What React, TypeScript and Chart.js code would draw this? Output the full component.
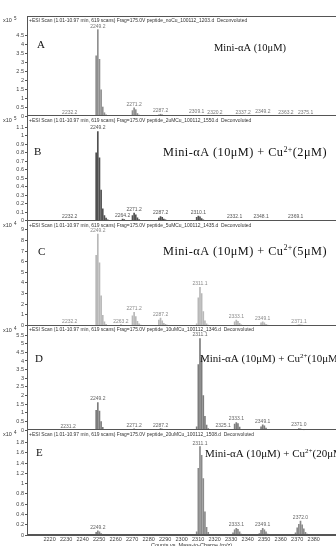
import { useEffect, useRef } from 'react';
import { Chart, registerables } from 'chart.js';

Chart.register(...registerables);

// ---- m/z axis ----
const mzTicks = [2220, 2230, 2240, 2250, 2260, 2270, 2280, 2290, 2300, 2310, 2320, 2330, 2340, 2350, 2360, 2370, 2380];
const mzMin = 2211.8;
const mzMax = 2388;

// ---- A: Mini-αA (10 μM), counts x10^5 ----
const mzA = [2232.2, 2248.2, 2249.2, 2250.2, 2251.2, 2252.2, 2253.2, 2254.2, 2270.2, 2271.2, 2272.2, 2273.2, 2274.2, 2286.2, 2287.2, 2288.2, 2289.2, 2309.1, 2320.2, 2337.2, 2349.2, 2363.2, 2375.1];
const countsA = [0.02, 3.35, 4.8, 3.15, 1.45, 0.5, 0.18, 0.06, 0.3, 0.45, 0.35, 0.14, 0.05, 0.06, 0.1, 0.07, 0.03, 0.03, 0.02, 0.02, 0.03, 0.02, 0.02];
const peaksA = [2232.2, 2249.2, 2271.2, 2287.2, 2309.1, 2320.2, 2337.2, 2349.2, 2363.2, 2375.1];
const ticksA = [0, 0.5, 1, 1.5, 2, 2.5, 3, 3.5, 4, 4.5];

// ---- B: + Cu2+ (2 μM), counts x10^5 ----
const mzB = [2232.2, 2248.2, 2249.2, 2250.2, 2251.2, 2252.2, 2253.2, 2254.2, 2255.2, 2264.2, 2265.2, 2270.2, 2271.2, 2272.2, 2273.2, 2274.2, 2275.2, 2286.2, 2287.2, 2288.2, 2289.2, 2290.2, 2309.1, 2310.1, 2311.1, 2312.1, 2313.1, 2332.1, 2348.1, 2369.1];
const countsB = [0.005, 0.8, 1.05, 0.74, 0.36, 0.14, 0.06, 0.03, 0.01, 0.02, 0.015, 0.06, 0.09, 0.07, 0.035, 0.015, 0.005, 0.03, 0.05, 0.04, 0.02, 0.01, 0.04, 0.055, 0.045, 0.025, 0.01, 0.005, 0.005, 0.005];
const peaksB = [2232.2, 2249.2, 2264.2, 2271.2, 2287.2, 2310.1, 2332.1, 2348.1, 2369.1];
const ticksB = [0, 0.1, 0.2, 0.3, 0.4, 0.5, 0.6, 0.7, 0.8, 0.9, 1, 1.1];

// ---- C: + Cu2+ (5 μM), counts x10^4 ----
const mzC = [2232.2, 2248.2, 2249.2, 2250.2, 2251.2, 2252.2, 2253.2, 2254.2, 2263.2, 2270.2, 2271.2, 2272.2, 2273.2, 2274.2, 2275.2, 2286.2, 2287.2, 2288.2, 2289.2, 2290.2, 2291.2, 2309.1, 2310.1, 2311.1, 2312.1, 2313.1, 2314.1, 2315.1, 2316.1, 2332.1, 2333.1, 2334.1, 2335.1, 2336.1, 2348.1, 2349.1, 2350.1, 2351.1, 2352.1, 2370.1, 2371.1, 2372.1, 2373.1];
const countsC = [0.05, 6.6, 8.6, 5.9, 2.8, 0.95, 0.35, 0.1, 0.08, 0.9, 1.25, 0.85, 0.4, 0.15, 0.05, 0.5, 0.7, 0.45, 0.2, 0.1, 0.05, 0.15, 2.6, 3.6, 3.0, 1.3, 0.45, 0.15, 0.05, 0.35, 0.5, 0.4, 0.2, 0.07, 0.25, 0.35, 0.25, 0.12, 0.05, 0.05, 0.08, 0.06, 0.03];
const peaksC = [2232.2, 2249.2, 2263.2, 2271.2, 2287.2, 2311.1, 2333.1, 2349.1, 2371.1];
const ticksC = [0, 1, 2, 3, 4, 5, 6, 7, 8, 9];

// ---- D: + Cu2+ (10 μM), counts x10^4 ----
const mzD = [2231.2, 2248.2, 2249.2, 2250.2, 2251.2, 2252.2, 2253.2, 2270.2, 2271.2, 2272.2, 2273.2, 2286.2, 2287.2, 2288.2, 2289.2, 2309.1, 2310.1, 2311.1, 2312.1, 2313.1, 2314.1, 2315.1, 2316.1, 2325.1, 2332.1, 2333.1, 2334.1, 2335.1, 2336.1, 2348.1, 2349.1, 2350.1, 2351.1, 2352.1, 2370.0, 2371.0, 2372.0, 2373.0, 2374.0];
const countsD = [0.03, 1.15, 1.6, 1.1, 0.5, 0.17, 0.05, 0.05, 0.08, 0.06, 0.03, 0.06, 0.09, 0.07, 0.03, 0.2, 3.8, 5.3, 4.2, 2.0, 0.8, 0.3, 0.1, 0.05, 0.35, 0.45, 0.38, 0.18, 0.06, 0.2, 0.32, 0.25, 0.12, 0.05, 0.06, 0.1, 0.08, 0.05, 0.02];
const peaksD = [2231.2, 2249.2, 2271.2, 2287.2, 2311.1, 2325.1, 2333.1, 2349.1, 2371.0];
const ticksD = [0, 0.5, 1, 1.5, 2, 2.5, 3, 3.5, 4, 4.5, 5, 5.5];

// ---- E: + Cu2+ (20 μM), counts x10^4 ----
const mzE = [2248.2, 2249.2, 2250.2, 2251.2, 2309.1, 2310.1, 2311.1, 2312.1, 2313.1, 2314.1, 2315.1, 2316.1, 2331.1, 2332.1, 2333.1, 2334.1, 2335.1, 2336.1, 2347.1, 2348.1, 2349.1, 2350.1, 2351.1, 2352.1, 2369.0, 2370.0, 2371.0, 2372.0, 2373.0, 2374.0, 2375.0, 2376.0];
const countsE = [0.05, 0.08, 0.06, 0.03, 0.06, 1.3, 1.72, 1.55, 1.1, 0.45, 0.15, 0.05, 0.04, 0.1, 0.13, 0.11, 0.06, 0.02, 0.03, 0.09, 0.13, 0.1, 0.06, 0.02, 0.04, 0.14, 0.21, 0.27, 0.2, 0.12, 0.05, 0.02];
const peaksE = [2249.2, 2311.1, 2333.1, 2349.1, 2372.0];
const ticksE = [0, 0.2, 0.4, 0.6, 0.8, 1, 1.2, 1.4, 1.6, 1.8];

const axisMax = [5.56, 1.232, 9.85, 6.05, 2.04];
const exponents = [5, 5, 4, 4, 4];
const letters = ['A', 'B', 'C', 'D', 'E'];
const copper = ['', '2', '5', '10', '20'];
const files = [
  'peptide_noCu_100112_1203.d',
  'peptide_2uMCu_100112_1550.d',
  'peptide_5uMCu_100112_1435.d',
  'peptide_10uMCu_100112_1346.d',
  'peptide_20uMCu_100112_1508.d',
];

// look of each panel
const panelStyle = [
  { weight: 100, bar: '#8f8f8f', label: '#777', letterX: 37, letterDy: 29, titleX: 214, titleDy: 32, titleSize: 10.5, spacing: 0 },
  { weight: 104.75, bar: '#505050', label: '#555', letterX: 34, letterDy: 36, titleX: 163, titleDy: 37, titleSize: 12.3, spacing: 0.45 },
  { weight: 104.75, bar: '#b8b8b8', label: '#8a8a8a', letterX: 38, letterDy: 31, titleX: 163, titleDy: 31, titleSize: 12.3, spacing: 0.45 },
  { weight: 104.75, bar: '#7c7c7c', label: '#666', letterX: 35, letterDy: 34, titleX: 200, titleDy: 34, titleSize: 11, spacing: 0 },
  { weight: 104.75, bar: '#8a8a8a', label: '#666', letterX: 36, letterDy: 23, titleX: 205, titleDy: 24, titleSize: 11, spacing: 0 },
];

const panels = [
  { id: 'yA', mz: mzA, counts: countsA, peaks: peaksA, ticks: ticksA },
  { id: 'yB', mz: mzB, counts: countsB, peaks: peaksB, ticks: ticksB },
  { id: 'yC', mz: mzC, counts: countsC, peaks: peaksC, ticks: ticksC },
  { id: 'yD', mz: mzD, counts: countsD, peaks: peaksD, ticks: ticksD },
  { id: 'yE', mz: mzE, counts: countsE, peaks: peaksE, ticks: ticksE },
];

const SANS = '"Liberation Sans", Arial, sans-serif';
const SERIF = '"Liberation Serif", "Times New Roman", serif';

function drawTitle(ctx: CanvasRenderingContext2D, x: number, y: number, cu: string, size: number, spacing: number) {
  ctx.fillStyle = '#111';
  ctx.textAlign = 'left';
  ctx.textBaseline = 'middle';
  (ctx as any).letterSpacing = `${spacing}px`;
  const main = `${size}px ${SERIF}`;
  const sup = `${Math.round(size * 0.62)}px ${SERIF}`;
  let cx = x;
  const put = (s: string, font: string, dy: number) => {
    ctx.font = font;
    ctx.fillText(s, cx, y + dy);
    cx += ctx.measureText(s).width;
  };
  put('Mini-αA (10μM)', main, 0);
  if (cu) {
    put(' + Cu', main, 0);
    put('2+', sup, -size * 0.28);
    put(`(${cu}μM)`, main, 0);
  }
  (ctx as any).letterSpacing = '0px';
}

const spectrumText = {
  id: 'spectrumText',
  afterDraw(chart: any) {
    const ctx: CanvasRenderingContext2D = chart.ctx;
    const xs = chart.scales.x;
    const { left, right } = chart.chartArea;
    ctx.save();
    panels.forEach((p, k) => {
      const ys = chart.scales[p.id];
      const st = panelStyle[k];
      const top = ys.top;
      const bottom = ys.bottom;

      // panel frame: top edge for the first panel, baseline for every panel
      ctx.strokeStyle = '#555';
      ctx.lineWidth = 1;
      ctx.beginPath();
      if (k === 0) {
        ctx.moveTo(left, Math.round(top) + 0.5);
        ctx.lineTo(right, Math.round(top) + 0.5);
      }
      ctx.moveTo(left, Math.round(bottom) - 0.5);
      ctx.lineTo(right, Math.round(bottom) - 0.5);
      ctx.stroke();

      // scale exponent and scan header
      ctx.fillStyle = '#333';
      ctx.textAlign = 'left';
      ctx.textBaseline = 'middle';
      ctx.font = `5.5px ${SANS}`;
      ctx.fillText('x10', 3, top + 4.5);
      ctx.font = `4.5px ${SANS}`;
      ctx.fillText(String(exponents[k]), 14, top + 3);
      ctx.font = `4.95px ${SANS}`;
      ctx.fillText(`+ESI Scan (1.01-10.97 min, 619 scans) Frag=175.0V ${files[k]}  Deconvoluted`, 29, top + 4.5);

      // peak m/z labels above their sticks
      ctx.fillStyle = st.label;
      ctx.textAlign = 'center';
      ctx.textBaseline = 'bottom';
      ctx.font = `5px ${SANS}`;
      p.peaks.forEach((m) => {
        const i = p.mz.indexOf(m);
        const v = i >= 0 ? p.counts[i] : 0;
        ctx.fillText(m.toFixed(1), xs.getPixelForValue(m), ys.getPixelForValue(v) - 1);
      });

      // panel letter and sample title
      ctx.fillStyle = '#111';
      ctx.textAlign = 'left';
      ctx.textBaseline = 'middle';
      ctx.font = `11px ${SERIF}`;
      ctx.fillText(letters[k], st.letterX, top + st.letterDy);
      drawTitle(ctx, st.titleX, top + st.titleDy, copper[k], st.titleSize, st.spacing);
    });

    // x-axis title
    ctx.fillStyle = '#333';
    ctx.textAlign = 'center';
    ctx.textBaseline = 'middle';
    ctx.font = `5.5px ${SANS}`;
    ctx.fillText('Counts vs. Mass-to-Charge (m/z)', (left + right) / 2 + 10, 545);
    ctx.restore();
  },
};

export default function App() {
  const canvasRef = useRef<HTMLCanvasElement | null>(null);

  useEffect(() => {
    if (!canvasRef.current) return;
    Chart.defaults.font.family = SANS;

    const fmt = (v: number) => String(Math.round(v * 10) / 10);

    const scales: any = {
      x: {
        type: 'linear',
        position: 'bottom',
        min: mzMin,
        max: mzMax,
        afterBuildTicks: (s: any) => {
          s.ticks = mzTicks.map((v) => ({ value: v }));
        },
        afterFit: (s: any) => {
          s.height = 11;
        },
        ticks: { font: { size: 5.5 }, color: '#444', padding: 0, maxRotation: 0, autoSkip: false, callback: (v: number) => String(v) },
        grid: { drawOnChartArea: false, tickLength: 1, color: '#666' },
        border: { color: '#555' },
      },
    };

    panels.forEach((p, k) => {
      scales[p.id] = {
        type: 'linear',
        position: 'left',
        stack: 'spectra',
        stackWeight: panelStyle[k].weight,
        weight: 10 - k,
        min: 0,
        max: axisMax[k],
        afterBuildTicks: (s: any) => {
          s.ticks = p.ticks.map((v) => ({ value: v }));
        },
        afterFit: (s: any) => {
          s.width = 27;
        },
        ticks: { font: { size: 5.5 }, color: '#444', padding: 1, autoSkip: false, callback: (v: number) => fmt(v) },
        grid: { drawOnChartArea: false, tickLength: 2, color: '#555' },
        border: { display: true, color: '#555' },
      };
    });

    const datasets = panels.map((p, k) => ({
      type: 'bar' as const,
      label: letters[k],
      data: p.mz.map((m, i) => ({ x: m, y: p.counts[i] })),
      xAxisID: 'x',
      yAxisID: p.id,
      backgroundColor: panelStyle[k].bar,
      borderWidth: 0,
      barThickness: 1,
      grouped: false,
    }));

    const chart = new Chart(canvasRef.current, {
      type: 'bar',
      data: { datasets },
      options: {
        responsive: false,
        animation: false,
        devicePixelRatio: 1,
        layout: { padding: { top: 16, left: 0, right: 0, bottom: 0 } },
        plugins: { legend: { display: false }, tooltip: { enabled: false } },
        scales,
      },
      plugins: [spectrumText],
    } as any);

    return () => chart.destroy();
  }, []);

  return (
    <div style={{ position: 'fixed', left: 0, top: 0, width: 336, height: 546, background: '#fff' }}>
      <canvas ref={canvasRef} width={336} height={546} />
    </div>
  );
}
